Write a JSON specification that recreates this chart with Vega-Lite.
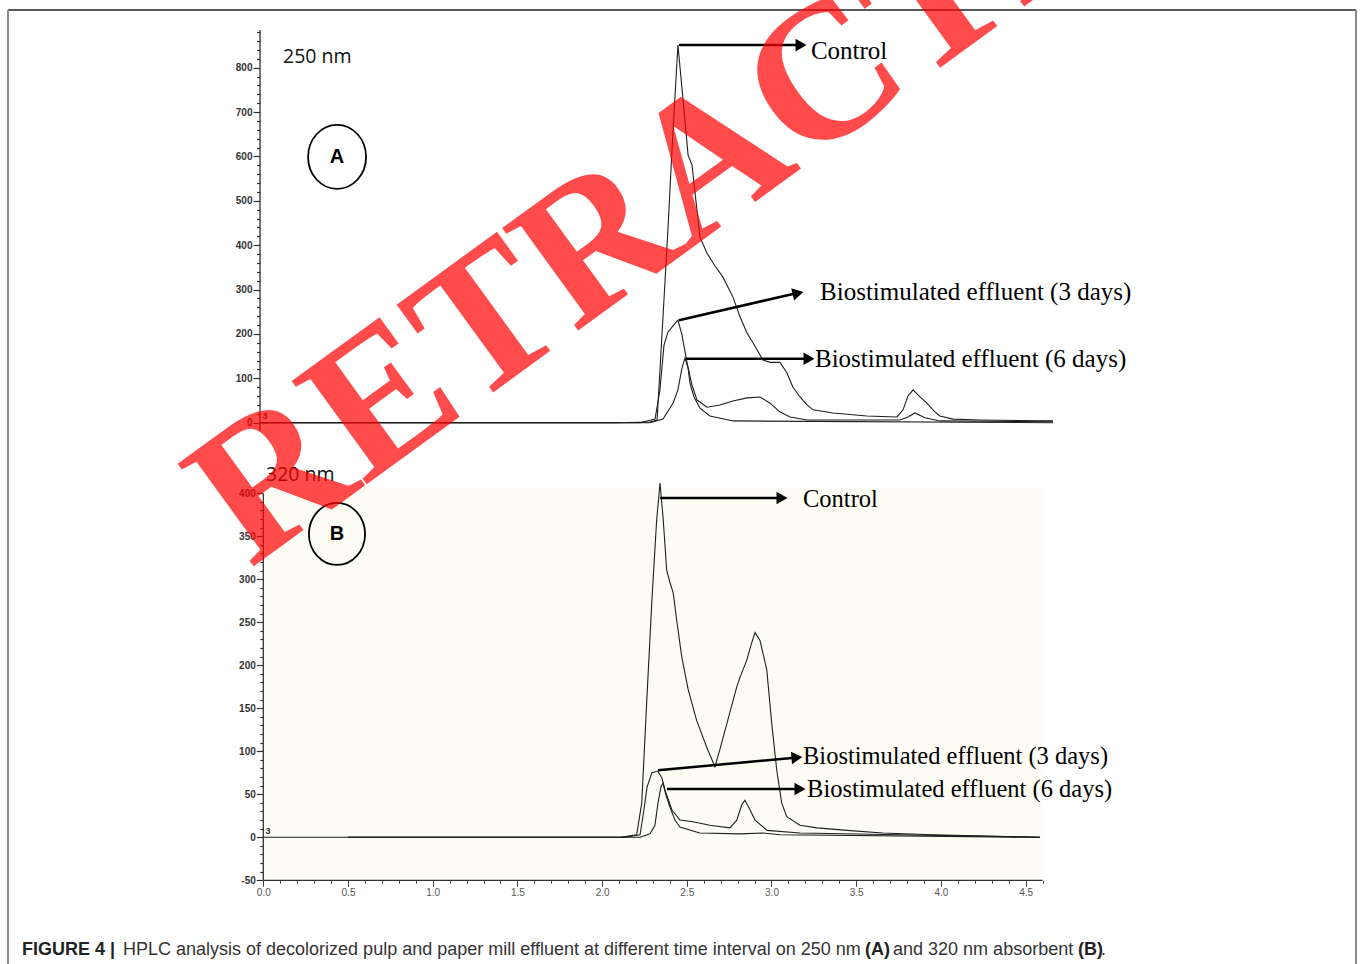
{
  "$schema": "https://vega.github.io/schema/vega-lite/v6.json",
  "width": 1360,
  "height": 964,
  "autosize": {"type": "none"},
  "padding": 0,
  "background": "white",
  "config": {"view": {"stroke": null}},
  "resolve": {"scale": {"x": "independent", "y": "independent"}},
  "layer": [
    {
      "encoding": {
        "x": {"field": "t", "type": "quantitative", "scale": {"domain": [-1.53483, 6.49351], "nice": false, "zero": false}, "axis": null},
        "y": {
          "field": "v", "type": "quantitative",
          "scale": {"domain": [-1219.83, 952.56], "nice": false, "zero": false},
          "axis": {
            "orient": "left", "offset": -260, "domain": false, "grid": false, "title": null,
            "values": [0,20,40,60,80,100,120,140,160,180,200,220,240,260,280,300,320,340,360,380,400,420,440,460,480,500,520,540,560,580,600,620,640,660,680,700,720,740,760,780,800,820,840,860,880],
            "labelExpr": "datum.value % 100 === 0 ? toString(datum.value) : ''",
            "tickSize": {"condition": {"test": "datum.value % 100 === 0", "value": 7}, "value": 3.5},
            "tickColor": "#333", "tickWidth": 1.2,
            "labelFont": "Liberation Sans", "labelFontSize": 10, "labelFontWeight": "bold", "labelColor": "#333",
            "labelPadding": 1, "labelOverlap": false, "labelFlush": false, "labelBound": false
          }
        }
      },
      "layer": [
        {
          "data": {"values": [{"t": -1.4876, "t2": 6.470, "v": 930, "v2": 930}]},
          "mark": {"type": "rule", "color": "#222", "strokeWidth": 1.5},
          "encoding": {"x2": {"field": "t2"}, "y2": {"field": "v2"}}
        },
        {
          "data": {"values": [{"t": -1.4876, "t2": -1.4876, "v": 930, "v2": -1219.83}, {"t": 6.470, "t2": 6.470, "v": 930, "v2": -1219.83}]},
          "mark": {"type": "rule", "color": "#8c8c8c", "strokeWidth": 2},
          "encoding": {"x2": {"field": "t2"}, "y2": {"field": "v2"}}
        },
        {
          "data": {"values": [{"t": 0, "t2": 0, "v": -18, "v2": 885}]},
          "mark": {"type": "rule", "color": "#333", "strokeWidth": 1.3},
          "encoding": {"x2": {"field": "t2"}, "y2": {"field": "v2"}}
        },
        {
          "data": {"values": [
            {"s": "Control", "t": 0, "v": 0}, {"s": "Control", "t": 2.096, "v": 0}, {"s": "Control", "t": 2.302, "v": 1.6}, {"s": "Control", "t": 2.344, "v": 6},
            {"s": "Control", "t": 2.373, "v": 198}, {"s": "Control", "t": 2.408, "v": 434}, {"s": "Control", "t": 2.432, "v": 614}, {"s": "Control", "t": 2.467, "v": 851},
            {"s": "Control", "t": 2.503, "v": 705}, {"s": "Control", "t": 2.527, "v": 603}, {"s": "Control", "t": 2.550, "v": 581}, {"s": "Control", "t": 2.597, "v": 418},
            {"s": "Control", "t": 2.639, "v": 382}, {"s": "Control", "t": 2.686, "v": 353}, {"s": "Control", "t": 2.733, "v": 328}, {"s": "Control", "t": 2.792, "v": 283},
            {"s": "Control", "t": 2.834, "v": 238}, {"s": "Control", "t": 2.875, "v": 202}, {"s": "Control", "t": 2.910, "v": 180}, {"s": "Control", "t": 2.969, "v": 141},
            {"s": "Control", "t": 3.011, "v": 136}, {"s": "Control", "t": 3.070, "v": 136}, {"s": "Control", "t": 3.111, "v": 112}, {"s": "Control", "t": 3.146, "v": 80},
            {"s": "Control", "t": 3.188, "v": 58}, {"s": "Control", "t": 3.229, "v": 40}, {"s": "Control", "t": 3.265, "v": 29}, {"s": "Control", "t": 3.383, "v": 22},
            {"s": "Control", "t": 3.583, "v": 15}, {"s": "Control", "t": 3.760, "v": 13}, {"s": "Control", "t": 3.796, "v": 29}, {"s": "Control", "t": 3.825, "v": 60},
            {"s": "Control", "t": 3.855, "v": 74}, {"s": "Control", "t": 3.896, "v": 58}, {"s": "Control", "t": 3.937, "v": 44}, {"s": "Control", "t": 3.979, "v": 26},
            {"s": "Control", "t": 4.014, "v": 15}, {"s": "Control", "t": 4.091, "v": 8}, {"s": "Control", "t": 4.250, "v": 6}, {"s": "Control", "t": 4.681, "v": 4},
            {"s": "3 days", "t": 0, "v": 0}, {"s": "3 days", "t": 2.243, "v": 0}, {"s": "3 days", "t": 2.332, "v": 8}, {"s": "3 days", "t": 2.361, "v": 74},
            {"s": "3 days", "t": 2.385, "v": 175}, {"s": "3 days", "t": 2.408, "v": 204}, {"s": "3 days", "t": 2.438, "v": 218}, {"s": "3 days", "t": 2.467, "v": 231},
            {"s": "3 days", "t": 2.491, "v": 198}, {"s": "3 days", "t": 2.521, "v": 135}, {"s": "3 days", "t": 2.550, "v": 85}, {"s": "3 days", "t": 2.580, "v": 51},
            {"s": "3 days", "t": 2.639, "v": 35}, {"s": "3 days", "t": 2.715, "v": 40}, {"s": "3 days", "t": 2.792, "v": 49}, {"s": "3 days", "t": 2.875, "v": 56},
            {"s": "3 days", "t": 2.952, "v": 58}, {"s": "3 days", "t": 3.011, "v": 44}, {"s": "3 days", "t": 3.070, "v": 24}, {"s": "3 days", "t": 3.129, "v": 13},
            {"s": "3 days", "t": 3.229, "v": 6}, {"s": "3 days", "t": 3.778, "v": 6}, {"s": "3 days", "t": 3.825, "v": 13}, {"s": "3 days", "t": 3.866, "v": 22},
            {"s": "3 days", "t": 3.925, "v": 11}, {"s": "3 days", "t": 4.014, "v": 4}, {"s": "3 days", "t": 4.681, "v": 2},
            {"s": "6 days", "t": 0, "v": 0}, {"s": "6 days", "t": 2.302, "v": 0}, {"s": "6 days", "t": 2.379, "v": 8}, {"s": "6 days", "t": 2.438, "v": 44},
            {"s": "6 days", "t": 2.467, "v": 74}, {"s": "6 days", "t": 2.491, "v": 123}, {"s": "6 days", "t": 2.509, "v": 146}, {"s": "6 days", "t": 2.527, "v": 123},
            {"s": "6 days", "t": 2.538, "v": 89}, {"s": "6 days", "t": 2.562, "v": 58}, {"s": "6 days", "t": 2.597, "v": 33}, {"s": "6 days", "t": 2.656, "v": 15},
            {"s": "6 days", "t": 2.792, "v": 4}, {"s": "6 days", "t": 4.681, "v": 0}
          ]},
          "mark": {"type": "line", "color": "#1e1e1e", "strokeWidth": 1.1},
          "encoding": {"detail": {"field": "s"}}
        },
        {
          "data": {"values": [
            {"t": 2.473, "v": 851, "t2": 3.176, "v2": 851},
            {"t": 2.473, "v": 231, "t2": 3.146, "v2": 290},
            {"t": 2.515, "v": 144, "t2": 3.223, "v2": 144}
          ]},
          "mark": {"type": "rule", "color": "black", "strokeWidth": 2.5},
          "encoding": {"x2": {"field": "t2"}, "y2": {"field": "v2"}}
        },
        {
          "data": {"values": [{"t": 3.194, "v": 851}, {"t": 3.241, "v": 144}]},
          "mark": {"type": "point", "shape": "triangle-right", "filled": true, "color": "black", "size": 160, "opacity": 1}
        },
        {
          "data": {"values": [{"t": 3.176, "v": 292}]},
          "mark": {"type": "point", "shape": "triangle-right", "filled": true, "color": "black", "size": 160, "opacity": 1, "angle": 347}
        },
        {
          "data": {"values": [
            {"t": 3.252, "v": 838, "label": "Control"},
            {"t": 3.306, "v": 294, "label": "Biostimulated effluent (3 days)"},
            {"t": 3.276, "v": 144, "label": "Biostimulated effluent (6 days)"}
          ]},
          "mark": {"type": "text", "font": "Liberation Serif", "fontSize": 25, "align": "left", "baseline": "middle", "color": "black"},
          "encoding": {"text": {"field": "label"}}
        },
        {
          "data": {"values": [{"t": 0.455, "v": 599}]},
          "mark": {"type": "point", "shape": "M0,-1C0.5,-1,0.906,-0.552,0.906,0C0.906,0.552,0.5,1,0,1C-0.5,1,-0.906,0.552,-0.906,0C-0.906,-0.552,-0.5,-1,0,-1Z", "filled": false, "color": "black", "strokeWidth": 1.8, "size": 4096, "opacity": 1}
        },
        {
          "data": {"values": [{"t": 0.455, "v": 599, "label": "A"}]},
          "mark": {"type": "text", "font": "Liberation Sans", "fontWeight": "bold", "fontSize": 20, "align": "center", "baseline": "middle", "color": "black"},
          "encoding": {"text": {"field": "label"}}
        },
        {
          "data": {"values": [{"t": 0.136, "v": 825, "label": "250 nm"}]},
          "mark": {"type": "text", "font": "Open Sans", "fontSize": 19.5, "align": "left", "baseline": "middle", "color": "#111"},
          "encoding": {"text": {"field": "label"}}
        },
        {
          "data": {"values": [{"t": 0.03, "v": 15, "label": "3"}]},
          "mark": {"type": "text", "font": "Liberation Sans", "fontWeight": "bold", "fontSize": 9, "align": "center", "baseline": "middle", "color": "#333"},
          "encoding": {"text": {"field": "label"}}
        }
      ]
    },
    {
      "encoding": {
        "x": {
          "field": "t", "type": "quantitative",
          "scale": {"domain": [-1.55431, 6.47403], "nice": false, "zero": false},
          "axis": {
            "orient": "bottom", "offset": -83.7, "domain": false, "grid": false, "title": null,
            "values": [0,0.1,0.2,0.3,0.4,0.5,0.6,0.7,0.8,0.9,1,1.1,1.2,1.3,1.4,1.5,1.6,1.7,1.8,1.9,2,2.1,2.2,2.3,2.4,2.5,2.6,2.7,2.8,2.9,3,3.1,3.2,3.3,3.4,3.5,3.6,3.7,3.8,3.9,4,4.1,4.2,4.3,4.4,4.5,4.6],
            "format": ".1f",
            "labelExpr": "abs(datum.value*2 - round(datum.value*2)) < 0.001 ? datum.label : ''",
            "tickSize": {"condition": {"test": "abs(datum.value*2 - round(datum.value*2)) < 0.001", "value": 6}, "value": 3},
            "tickColor": "#444", "tickWidth": 1,
            "labelFont": "Liberation Sans", "labelFontSize": 10, "labelColor": "#555",
            "labelPadding": 1, "labelOverlap": false, "labelFlush": false, "labelBound": false
          }
        },
        "y": {
          "field": "v", "type": "quantitative",
          "scale": {"domain": [-147.33, 973.6], "nice": false, "zero": false},
          "axis": {
            "orient": "left", "offset": -263.3, "domain": false, "grid": false, "title": null,
            "values": [-50,-40,-30,-20,-10,0,10,20,30,40,50,60,70,80,90,100,110,120,130,140,150,160,170,180,190,200,210,220,230,240,250,260,270,280,290,300,310,320,330,340,350,360,370,380,390,400],
            "labelExpr": "datum.value % 50 === 0 ? toString(datum.value) : ''",
            "tickSize": {"condition": {"test": "datum.value % 50 === 0", "value": 7}, "value": 3.5},
            "tickColor": "#333", "tickWidth": 1.2,
            "labelFont": "Liberation Sans", "labelFontSize": 10, "labelFontWeight": "bold", "labelColor": "#333",
            "labelPadding": 1, "labelOverlap": false, "labelFlush": false, "labelBound": false
          }
        }
      },
      "layer": [
        {
          "data": {"values": [{"t": 0, "t2": 4.6, "v": -50, "v2": 407}]},
          "mark": {"type": "rect", "color": "#fdfdf6"},
          "encoding": {"x2": {"field": "t2"}, "y2": {"field": "v2"}}
        },
        {
          "data": {"values": [{"t": 0, "t2": 0, "v": -50, "v2": 400}, {"t": 0, "t2": 4.6, "v": -50, "v2": -50}]},
          "mark": {"type": "rule", "color": "#333", "strokeWidth": 1.3},
          "encoding": {"x2": {"field": "t2"}, "y2": {"field": "v2"}}
        },
        {
          "data": {"values": [
            {"s": "Control", "t": 0, "v": 0}, {"s": "Control", "t": 2.106, "v": 0}, {"s": "Control", "t": 2.204, "v": 3}, {"s": "Control", "t": 2.234, "v": 40},
            {"s": "Control", "t": 2.263, "v": 156}, {"s": "Control", "t": 2.293, "v": 272}, {"s": "Control", "t": 2.322, "v": 369}, {"s": "Control", "t": 2.342, "v": 412},
            {"s": "Control", "t": 2.361, "v": 369}, {"s": "Control", "t": 2.381, "v": 311}, {"s": "Control", "t": 2.401, "v": 296}, {"s": "Control", "t": 2.420, "v": 284},
            {"s": "Control", "t": 2.440, "v": 253}, {"s": "Control", "t": 2.470, "v": 210}, {"s": "Control", "t": 2.509, "v": 171}, {"s": "Control", "t": 2.558, "v": 136},
            {"s": "Control", "t": 2.617, "v": 105}, {"s": "Control", "t": 2.666, "v": 82}, {"s": "Control", "t": 2.695, "v": 102}, {"s": "Control", "t": 2.754, "v": 145},
            {"s": "Control", "t": 2.795, "v": 175}, {"s": "Control", "t": 2.814, "v": 186}, {"s": "Control", "t": 2.854, "v": 206}, {"s": "Control", "t": 2.883, "v": 226},
            {"s": "Control", "t": 2.903, "v": 238}, {"s": "Control", "t": 2.932, "v": 229}, {"s": "Control", "t": 2.972, "v": 195}, {"s": "Control", "t": 3.001, "v": 133},
            {"s": "Control", "t": 3.031, "v": 78}, {"s": "Control", "t": 3.060, "v": 40}, {"s": "Control", "t": 3.090, "v": 24}, {"s": "Control", "t": 3.168, "v": 14},
            {"s": "Control", "t": 3.269, "v": 11}, {"s": "Control", "t": 3.446, "v": 8}, {"s": "Control", "t": 3.658, "v": 5}, {"s": "Control", "t": 3.954, "v": 3},
            {"s": "Control", "t": 4.585, "v": 0},
            {"s": "3 days", "t": 0.5, "v": 0}, {"s": "3 days", "t": 2.135, "v": 0}, {"s": "3 days", "t": 2.224, "v": 3}, {"s": "3 days", "t": 2.247, "v": 32},
            {"s": "3 days", "t": 2.265, "v": 58}, {"s": "3 days", "t": 2.294, "v": 75}, {"s": "3 days", "t": 2.329, "v": 77}, {"s": "3 days", "t": 2.353, "v": 69},
            {"s": "3 days", "t": 2.371, "v": 55}, {"s": "3 days", "t": 2.412, "v": 32}, {"s": "3 days", "t": 2.459, "v": 20}, {"s": "3 days", "t": 2.536, "v": 18},
            {"s": "3 days", "t": 2.636, "v": 14}, {"s": "3 days", "t": 2.754, "v": 11}, {"s": "3 days", "t": 2.795, "v": 20}, {"s": "3 days", "t": 2.825, "v": 38},
            {"s": "3 days", "t": 2.843, "v": 43}, {"s": "3 days", "t": 2.873, "v": 32}, {"s": "3 days", "t": 2.903, "v": 20}, {"s": "3 days", "t": 2.974, "v": 8},
            {"s": "3 days", "t": 3.168, "v": 5}, {"s": "3 days", "t": 3.758, "v": 3}, {"s": "3 days", "t": 4.585, "v": 0},
            {"s": "6 days", "t": 0.5, "v": 0}, {"s": "6 days", "t": 2.224, "v": 0}, {"s": "6 days", "t": 2.283, "v": 4}, {"s": "6 days", "t": 2.312, "v": 14},
            {"s": "6 days", "t": 2.330, "v": 40}, {"s": "6 days", "t": 2.348, "v": 59}, {"s": "6 days", "t": 2.360, "v": 63}, {"s": "6 days", "t": 2.377, "v": 49},
            {"s": "6 days", "t": 2.401, "v": 35}, {"s": "6 days", "t": 2.430, "v": 20}, {"s": "6 days", "t": 2.459, "v": 12}, {"s": "6 days", "t": 2.577, "v": 5},
            {"s": "6 days", "t": 2.813, "v": 4}, {"s": "6 days", "t": 2.949, "v": 5}, {"s": "6 days", "t": 3.049, "v": 3}, {"s": "6 days", "t": 4.585, "v": 0}
          ]},
          "mark": {"type": "line", "color": "#1e1e1e", "strokeWidth": 1.1},
          "encoding": {"detail": {"field": "s"}}
        },
        {
          "data": {"values": [
            {"t": 2.342, "v": 394.5, "t2": 3.050, "v2": 394.5},
            {"t": 2.330, "v": 78, "t2": 3.138, "v2": 92.5},
            {"t": 2.383, "v": 56.2, "t2": 3.156, "v2": 56.2}
          ]},
          "mark": {"type": "rule", "color": "black", "strokeWidth": 2.5},
          "encoding": {"x2": {"field": "t2"}, "y2": {"field": "v2"}}
        },
        {
          "data": {"values": [{"t": 3.062, "v": 394.5}, {"t": 3.168, "v": 56.2}]},
          "mark": {"type": "point", "shape": "triangle-right", "filled": true, "color": "black", "size": 160, "opacity": 1}
        },
        {
          "data": {"values": [{"t": 3.150, "v": 92.8}]},
          "mark": {"type": "point", "shape": "triangle-right", "filled": true, "color": "black", "size": 160, "opacity": 1, "angle": 355}
        },
        {
          "data": {"values": [
            {"t": 3.186, "v": 392, "label": "Control"},
            {"t": 3.186, "v": 93.4, "label": "Biostimulated effluent (3 days)"},
            {"t": 3.210, "v": 55, "label": "Biostimulated effluent (6 days)"}
          ]},
          "mark": {"type": "text", "font": "Liberation Serif", "fontSize": 24.5, "align": "left", "baseline": "middle", "color": "black"},
          "encoding": {"text": {"field": "label"}}
        },
        {
          "data": {"values": [{"t": 0.435, "v": 352.7}]},
          "mark": {"type": "point", "shape": "M0,-1C0.5,-1,0.906,-0.552,0.906,0C0.906,0.552,0.5,1,0,1C-0.5,1,-0.906,0.552,-0.906,0C-0.906,-0.552,-0.5,-1,0,-1Z", "filled": false, "color": "black", "strokeWidth": 1.8, "size": 3844, "opacity": 1}
        },
        {
          "data": {"values": [{"t": 0.435, "v": 352.7, "label": "B"}]},
          "mark": {"type": "text", "font": "Liberation Sans", "fontWeight": "bold", "fontSize": 20, "align": "center", "baseline": "middle", "color": "black"},
          "encoding": {"text": {"field": "label"}}
        },
        {
          "data": {"values": [{"t": 0.016, "v": 421, "label": "320 nm"}]},
          "mark": {"type": "text", "font": "Open Sans", "fontSize": 19.5, "align": "left", "baseline": "middle", "color": "#111"},
          "encoding": {"text": {"field": "label"}}
        },
        {
          "data": {"values": [{"t": 0.028, "v": 7.3, "label": "3"}]},
          "mark": {"type": "text", "font": "Liberation Sans", "fontWeight": "bold", "fontSize": 9, "align": "center", "baseline": "middle", "color": "#333"},
          "encoding": {"text": {"field": "label"}}
        },
        {
          "data": {"values": [
            {"t": -1.4244, "v": -131, "label": "FIGURE 4 |"},
            {"t": 3.552, "v": -131, "label": "(A)"},
            {"t": 4.8092, "v": -131, "label": "(B)"}
          ]},
          "mark": {"type": "text", "font": "Liberation Sans", "fontWeight": "bold", "fontSize": 18, "align": "left", "baseline": "middle", "color": "#222"},
          "encoding": {"text": {"field": "label"}}
        },
        {
          "data": {"values": [
            {"t": -0.8282, "v": -131, "label": "HPLC analysis of decolorized pulp and paper mill effluent at different time interval on 250 nm"},
            {"t": 3.7175, "v": -131, "label": "and 320 nm absorbent"},
            {"t": 4.9451, "v": -131, "label": "."}
          ]},
          "mark": {"type": "text", "font": "Liberation Sans", "fontSize": 18, "align": "left", "baseline": "middle", "color": "#333"},
          "encoding": {"text": {"field": "label"}}
        },
        {
          "data": {"values": [{"t": -0.0785, "v": 312.0, "label": "RETRACTED"}]},
          "mark": {"type": "text", "font": "Liberation Serif", "fontWeight": "bold", "fontSize": 195, "align": "left", "baseline": "alphabetic", "angle": 324, "color": "#ff0000", "opacity": 0.7},
          "encoding": {"text": {"field": "label"}}
        }
      ]
    }
  ]
}
